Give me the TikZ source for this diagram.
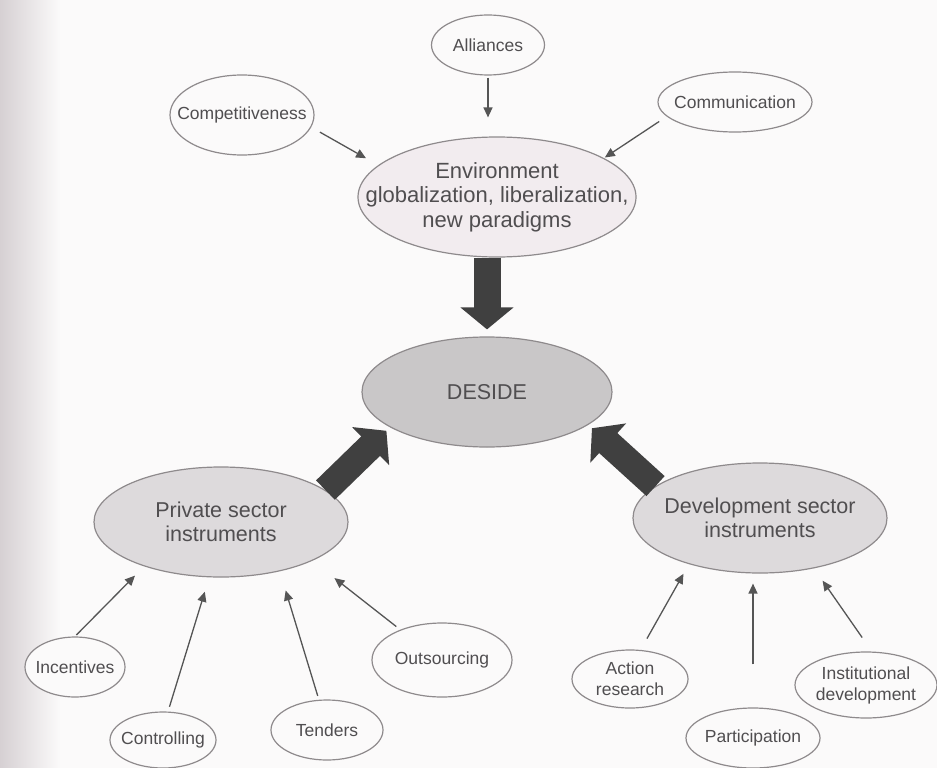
\documentclass[tikz,border=0pt]{standalone}
\usepackage{fontspec}
\setmainfont{Liberation Sans}
\usetikzlibrary{arrows.meta,shapes.geometric}
\definecolor{bg}{HTML}{FBFAFA}
\definecolor{strip}{HTML}{D6D0D3}
\definecolor{edge}{HTML}{8E8A8C}
\definecolor{txt}{HTML}{504E50}
\definecolor{envfill}{HTML}{F2ECEF}
\definecolor{desfill}{HTML}{C9C7C8}
\definecolor{secfill}{HTML}{DDDADC}
\definecolor{thin}{HTML}{555555}
\definecolor{bigc}{HTML}{404040}
\tikzset{
  oval/.style={ellipse, draw=edge, line width=1.2pt, fill=bg, inner sep=0pt},
  smalltext/.style={text=txt, font=\fontsize{17.5}{21}\selectfont, align=center, inner sep=0pt},
  bigtext/.style={text=txt, font=\fontsize{21.5}{24.5}\selectfont, align=center, inner sep=0pt},
  envtext/.style={text=txt, font=\fontsize{22}{24.5}\selectfont, align=center, inner sep=0pt},
  thinarrow/.style={draw=thin, line width=1.3pt, -{Triangle[length=10pt,width=9pt]}},
  bigarrow/.style={draw=bigc, line width=27pt, -{Triangle[length=22pt,width=52pt]}}
}
\begin{document}
\begin{tikzpicture}[x=1pt,y=-1pt]
\useasboundingbox (0,0) rectangle (937,768);
\fill[bg] (0,0) rectangle (937,768);
\shade[left color=strip, right color=bg] (0,0) rectangle (60,768);

% top nodes
\node[oval, minimum width=113pt, minimum height=60pt,
      label={[smalltext]center:Alliances}] (alli) at (488,45) {};
\node[oval, minimum width=144pt, minimum height=80pt,
      label={[smalltext]center:Competitiveness}] (comp) at (242,115) {};
\node[oval, minimum width=154pt, minimum height=60pt,
      label={[smalltext]center:Communication}] (comm) at (735,102) {};
\node[oval, fill=envfill, minimum width=278pt, minimum height=120pt,
      label={[envtext]center:Environment\\globalization, liberalization,\\new paradigms}] (env) at (497,197) {};

% centre
\node[oval, fill=desfill, minimum width=250pt, minimum height=110pt,
      label={[bigtext]center:DESIDE}] (deside) at (487,392) {};

% sectors
\node[oval, fill=secfill, minimum width=254pt, minimum height=110pt,
      label={[bigtext]center:Private sector\\instruments}] (priv) at (221,522) {};
\node[oval, fill=secfill, minimum width=254pt, minimum height=110pt,
      label={[bigtext]center:Development sector\\instruments}] (dev) at (760,518) {};

% bottom nodes
\node[oval, minimum width=100pt, minimum height=60pt,
      label={[smalltext]center:Incentives}] (inc) at (75,667) {};
\node[oval, minimum width=106pt, minimum height=56pt,
      label={[smalltext]center:Controlling}] (ctrl) at (163,740) {};
\node[oval, minimum width=112pt, minimum height=60pt,
      label={[smalltext]center:Tenders}] (tend) at (327,730) {};
\node[oval, minimum width=140pt, minimum height=74pt,
      label={[smalltext]center:Outsourcing}] (outs) at (442,660) {};
\node[oval, minimum width=116pt, minimum height=58pt,
      label={[smalltext]center:Action\\research}] (act) at (630,679) {};
\node[oval, minimum width=134pt, minimum height=60pt,
      label={[smalltext]center:Participation}] (part) at (753,738) {};
\node[oval, minimum width=142pt, minimum height=66pt,
      label={[smalltext]center:Institutional\\development}] (inst) at (866,685) {};

% thin arrows to environment
\draw[thinarrow, shorten <=2pt, shorten >=19pt] (alli.south) -- (alli.south |- env.north);
\draw[thinarrow, shorten <=10pt, shorten >=14pt] (comp.-10) -- (env.165);
\draw[thinarrow, shorten <=9pt, shorten >=1pt] (comm.192) -- (env.20);

% thin arrows to private sector
\draw[thinarrow, shorten <=2pt, shorten >=13pt] (inc.north) -- (priv.210);
\draw[thinarrow, shorten <=5pt, shorten >=15pt] (ctrl.80) -- (priv.258);
\draw[thinarrow, shorten <=4pt, shorten >=20pt] (tend.105) -- (priv.-40);
\draw[thinarrow, shorten <=5pt, shorten >=28pt] (outs.144) -- (priv.-23);

% thin arrows to development sector
\draw[thinarrow, shorten <=13pt, shorten >=11pt] (act.70) -- (dev.213);
\draw[thinarrow, shorten <=43pt, shorten >=10pt] (part.north) -- (part.north |- dev.south);
\draw[thinarrow, shorten <=17pt, shorten >=15pt] (inst.80) -- (dev.-43);

% big arrows to DESIDE
\draw[bigarrow, shorten >=7pt] (deside.north |- env.south) -- (deside.north);
\draw[bigarrow, shorten >=5pt] (priv.17) -- (deside.200);
\draw[bigarrow, shorten >=5pt] (dev.163) -- (deside.-18);
\end{tikzpicture}
\end{document}
